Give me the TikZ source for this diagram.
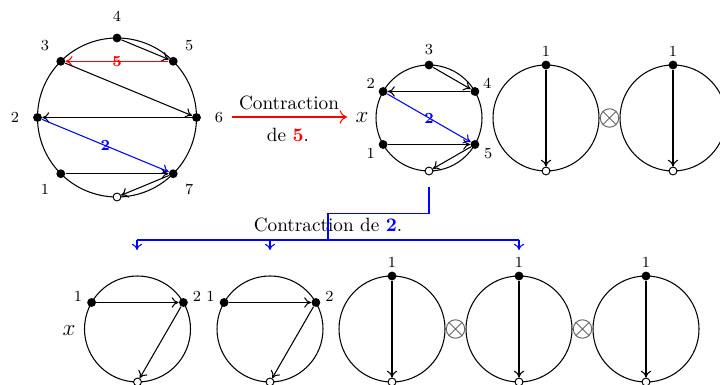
\documentclass[tikz,border=0pt]{standalone}
\usetikzlibrary{arrows.meta,calc}
\begin{document}
\begin{tikzpicture}[x=0.52pt,y=0.52pt,
  dot/.style={circle,fill=black,inner sep=0pt,minimum size=4.6pt},
  odot/.style={circle,draw=black,fill=white,inner sep=0pt,minimum size=4.1pt,line width=0.5pt},
  lab/.style={font=\footnotesize,inner sep=0pt},
  ring/.style={draw=black,line width=0.55pt},
  chord/.style={line width=0.55pt,-{To[length=3.6pt,width=5.4pt]}},
  midlab/.style={font=\footnotesize\bfseries,inner sep=0pt},
  otim/.style={circle,draw=black!60,inner sep=0pt,minimum size=9.6pt,line width=0.5pt},
  bigx/.style={font=\large,inner sep=0pt}
]
\useasboundingbox (0,0) rectangle (720,385);

% ---------- circle 1 ----------
\coordinate (c1) at (117,267.5);
\draw[ring] (c1) circle[radius=79.5];
\node[dot] (a4) at ($(c1)+(90:79.5)$) {};
\node[dot] (a5) at ($(c1)+(45:79.5)$) {};
\node[dot] (a3) at ($(c1)+(135:79.5)$) {};
\node[dot] (a2) at ($(c1)+(180:79.5)$) {};
\node[dot] (a6) at ($(c1)+(0:79.5)$) {};
\node[dot] (a1) at ($(c1)+(225:79.5)$) {};
\node[dot] (a7) at ($(c1)+(315:79.5)$) {};
\node[odot] (a0) at ($(c1)+(270:79.5)$) {};
\node[lab] (l4) at ($(c1)+(90:101)$) {4};
\node[lab] (l5) at ($(c1)+(45:102)$) {5};
\node[lab] (l3) at ($(c1)+(135:102)$) {3};
\node[lab] (l2) at ($(c1)+(180:102)$) {2};
\node[lab] (l6) at ($(c1)+(0:102)$) {6};
\node[lab] (l1) at ($(c1)+(225:102)$) {1};
\node[lab] (l7) at ($(c1)+(315:102)$) {7};
\draw[chord] (a4) -- (a5);
\draw[chord,red] (a5) -- node[midlab,text=red]{5} (a3);
\draw[chord] (a3) -- (a6);
\draw[chord] (a6) -- (a2);
\draw[chord,blue] (a2) -- node[midlab,text=blue]{2} (a7);
\draw[chord] (a1) -- (a7);
\draw[chord] (a7) -- (a0);

% ---------- red contraction arrow ----------
\coordinate (r0) at (232,268);
\coordinate (r1) at (347,268);
\draw[red,line width=0.55pt,-{To[length=3.8pt,width=7pt]}] (r0) -- (r1);
\node (t1) at (289,282) {Contraction};
\node (t2) at (288,250) {de \textcolor{red}{\textbf{5}}.};
\node[bigx] (x1) at (362,267) {$x$};

% ---------- circle 2 ----------
\coordinate (c2) at (429,267);
\draw[ring] (c2) circle[radius=53];
\node[dot] (b3) at ($(c2)+(90:53)$) {};
\node[dot] (b4) at ($(c2)+(30:53)$) {};
\node[dot] (b2) at ($(c2)+(150:53)$) {};
\node[dot] (b1) at ($(c2)+(210:53)$) {};
\node[dot] (b5) at ($(c2)+(330:53)$) {};
\node[odot] (b0) at ($(c2)+(270:53)$) {};
\node[lab] (m3) at ($(c2)+(90:68)$) {3};
\node[lab] (m4) at ($(c2)+(31:68)$) {4};
\node[lab] (m2) at ($(c2)+(149:68)$) {2};
\node[lab] (m1) at ($(c2)+(211:68)$) {1};
\node[lab] (m5) at ($(c2)+(329:69)$) {5};
\draw[chord] (b3) -- (b4);
\draw[chord] (b4) -- (b2);
\draw[chord,blue] (b2) -- node[midlab,text=blue]{2} (b5);
\draw[chord] (b1) -- (b5);
\draw[chord] (b5) -- (b0);

% ---------- circles 3 and 4 ----------
\foreach \n/\cx in {3/546,4/673}{
  \coordinate (c\n) at (\cx,267);
  \draw[ring] (c\n) circle[radius=53];
  \node[dot] (p\n) at ($(c\n)+(90:53)$) {};
  \node[odot] (q\n) at ($(c\n)+(270:53)$) {};
  \node[lab] (k\n) at ($(c\n)+(90:67)$) {1};
  \draw[chord] (p\n) -- (q\n);
}
\node[otim] (o1) at (609.5,267) {};
\draw[black!60,line width=0.5pt] (o1.45) -- (o1.225) (o1.135) -- (o1.315);

% ---------- blue contraction tree ----------
\coordinate (s0) at (429,198);
\coordinate (s1) at (328,171.7);
\coordinate (s2) at (328,145);
\coordinate (u1) at (137,145);
\coordinate (u2) at (270,145);
\coordinate (u3) at (519,145);
\coordinate (v1) at (137,135);
\coordinate (v2) at (270,135);
\coordinate (v3) at (519,135);
\draw[blue,line width=0.55pt] (s0) |- (s1) -- (s2);
\draw[blue,line width=0.55pt] (u1) -- (u3);
\draw[blue,line width=0.55pt,-{To[length=3.2pt,width=5.2pt]}] (u1) -- (v1);
\draw[blue,line width=0.55pt,-{To[length=3.2pt,width=5.2pt]}] (u2) -- (v2);
\draw[blue,line width=0.55pt,-{To[length=3.2pt,width=5.2pt]}] (u3) -- (v3);
\node (t3) at (328,160) {Contraction de \textcolor{blue}{\textbf{2}}.};

% ---------- bottom circles 5 and 6 ----------
\node[bigx] (x2) at (69,54) {$x$};
\foreach \n/\cx in {5/137.5,6/270}{
  \coordinate (c\n) at (\cx,56);
  \draw[ring] (c\n) circle[radius=53];
  \node[dot] (e\n) at ($(c\n)+(150:53)$) {};
  \node[dot] (f\n) at ($(c\n)+(30:53)$) {};
  \node[odot] (g\n) at ($(c\n)+(270:53)$) {};
  \node[lab] (h\n) at ($(c\n)+(151:68)$) {1};
  \node[lab] (i\n) at ($(c\n)+(29:68)$) {2};
  \draw[chord] (e\n) -- (f\n);
  \draw[chord] (f\n) -- (g\n);
}

% ---------- bottom circles 7,8,9 ----------
\foreach \n/\cx in {7/392,8/519,9/646}{
  \coordinate (c\n) at (\cx,56);
  \draw[ring] (c\n) circle[radius=53];
  \node[dot] (p\n) at ($(c\n)+(90:53)$) {};
  \node[odot] (q\n) at ($(c\n)+(270:53)$) {};
  \node[lab] (k\n) at ($(c\n)+(90:67)$) {1};
  \draw[chord] (p\n) -- (q\n);
}
\node[otim] (o2) at (455.5,56) {};
\draw[black!60,line width=0.5pt] (o2.45) -- (o2.225) (o2.135) -- (o2.315);
\node[otim] (o3) at (582.5,56) {};
\draw[black!60,line width=0.5pt] (o3.45) -- (o3.225) (o3.135) -- (o3.315);
\end{tikzpicture}
\end{document}
